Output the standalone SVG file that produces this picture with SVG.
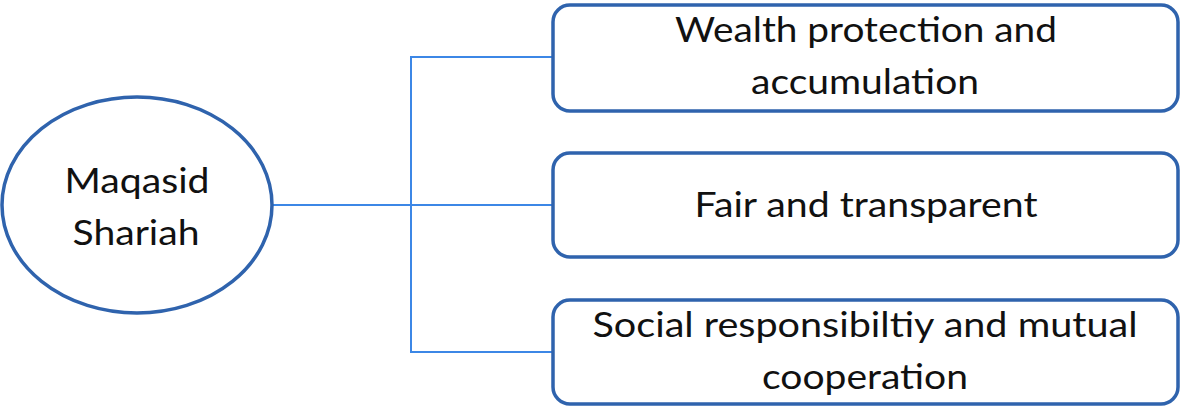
<svg xmlns="http://www.w3.org/2000/svg" width="1183" height="408" viewBox="0 0 1183 408">
  <style>
    .node { fill: #ffffff; stroke: #2F63AD; stroke-width: 3.5; }
    .conn { fill: none; stroke: #3C87E6; stroke-width: 2; }
    .lbl { font-family: Lato, "Open Sans", "Liberation Sans", sans-serif; font-size: 35px; fill: #111111; text-anchor: middle; }
  </style>
  <rect width="1183" height="408" fill="#ffffff"/>
  <g id="connectors">
    <line class="conn" x1="272" y1="205" x2="553" y2="205"/>
    <polyline class="conn" points="553,57 411,57 411,352 553,352"/>
  </g>
  <g id="node-maqasid">
    <ellipse class="node" cx="137" cy="205" rx="135" ry="108"/>
    <text class="lbl" x="137" y="193" textLength="145" lengthAdjust="spacingAndGlyphs">Maqasid</text>
    <text class="lbl" x="136" y="245" textLength="127" lengthAdjust="spacingAndGlyphs">Shariah</text>
  </g>
  <g id="node-wealth">
    <rect class="node" x="553" y="5" width="625" height="106" rx="17"/>
    <text class="lbl" x="866" y="42" textLength="382" lengthAdjust="spacingAndGlyphs">Wealth protection and</text>
    <text class="lbl" x="865" y="94" textLength="228" lengthAdjust="spacingAndGlyphs">accumulation</text>
  </g>
  <g id="node-fair">
    <rect class="node" x="553" y="153" width="625" height="104" rx="17"/>
    <text class="lbl" x="866" y="217" textLength="343" lengthAdjust="spacingAndGlyphs">Fair and transparent</text>
  </g>
  <g id="node-social">
    <rect class="node" x="553" y="300" width="625" height="104" rx="17"/>
    <text class="lbl" x="865" y="337" textLength="545" lengthAdjust="spacingAndGlyphs">Social responsibiltiy and mutual</text>
    <text class="lbl" x="865" y="389" textLength="206" lengthAdjust="spacingAndGlyphs">cooperation</text>
  </g>
</svg>
